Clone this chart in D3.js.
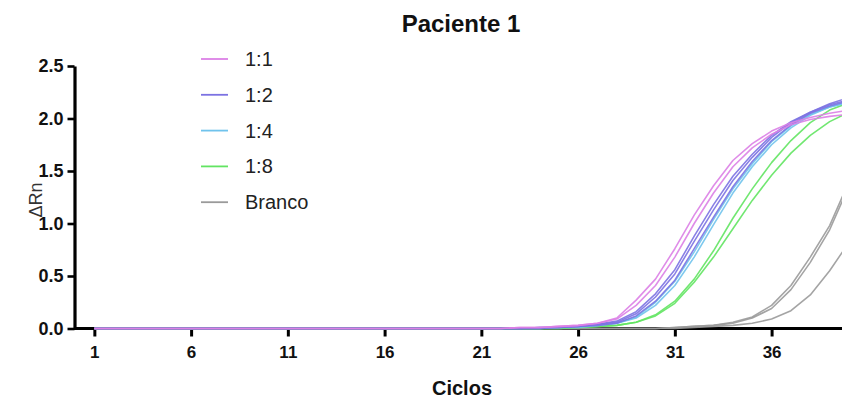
<!DOCTYPE html>
<html>
<head>
<meta charset="utf-8">
<script src="https://cdn.jsdelivr.net/npm/d3@7/dist/d3.min.js"></script>
<style>
  html, body { margin: 0; padding: 0; background: #fff; }
  svg { display: block; font-family: "Liberation Sans", Arial, Helvetica, sans-serif; }
</style>
</head>
<body>
<svg id="chart" width="842" height="398"></svg>
<script>
// qPCR amplification curves (ΔRn per cycle), replicate wells per dilution
const cycles = d3.range(1, 41);
const xTickValues = [1, 6, 11, 16, 21, 26, 31, 36];
const yTickValues = [0, 0.5, 1.0, 1.5, 2.0, 2.5];
const groups = ["1:1", "1:2", "1:4", "1:8", "Branco"];

const dil1a = [0,0,0,0,0,0,0,0,0,0, 0,0,0,0,0,0,0,0,0,0, 0,0,0.01,0.01,0.02, 0.03,0.05,0.10,0.27,0.47, 0.76,1.08,1.36,1.60,1.76, 1.88,1.96,2.01,2.05,2.08];
const dil1b = [0,0,0,0,0,0,0,0,0,0, 0,0,0,0,0,0,0,0,0,0, 0,0,0.01,0.01,0.02, 0.03,0.05,0.09,0.22,0.41, 0.68,1.00,1.29,1.54,1.72, 1.85,1.94,1.99,2.02,2.04];
const dil2a = [0,0,0,0,0,0,0,0,0,0, 0,0,0,0,0,0,0,0,0,0, 0,0,0,0.01,0.01, 0.02,0.04,0.07,0.16,0.33, 0.56,0.88,1.18,1.45,1.66, 1.84,1.97,2.06,2.13,2.18];
const dil2b = [0,0,0,0,0,0,0,0,0,0, 0,0,0,0,0,0,0,0,0,0, 0,0,0,0.01,0.01, 0.02,0.04,0.06,0.14,0.30, 0.52,0.83,1.13,1.41,1.63, 1.82,1.96,2.06,2.14,2.20];
const dil2c = [0,0,0,0,0,0,0,0,0,0, 0,0,0,0,0,0,0,0,0,0, 0,0,0,0,0.01, 0.02,0.03,0.05,0.12,0.26, 0.46,0.76,1.06,1.35,1.59, 1.79,1.94,2.05,2.12,2.17];
const dil4a = [0,0,0,0,0,0,0,0,0,0, 0,0,0,0,0,0,0,0,0,0, 0,0,0,0,0.01, 0.01,0.03,0.05,0.10,0.22, 0.41,0.68,0.99,1.29,1.54, 1.75,1.91,2.03,2.11,2.16];
const dil4b = [0,0,0,0,0,0,0,0,0,0, 0,0,0,0,0,0,0,0,0,0, 0,0,0,0,0.01, 0.02,0.03,0.05,0.11,0.25, 0.45,0.73,1.04,1.33,1.57, 1.78,1.93,2.04,2.11,2.15];
const dil8a = [0,0,0,0,0,0,0,0,0,0, 0,0,0,0,0,0,0,0,0,0, 0,0,0,0,0, 0.01,0.02,0.03,0.06,0.12, 0.24,0.44,0.68,0.95,1.22, 1.46,1.67,1.84,1.97,2.06];
const dil8b = [0,0,0,0,0,0,0,0,0,0, 0,0,0,0,0,0,0,0,0,0, 0,0,0,0,0, 0.01,0.02,0.03,0.06,0.13, 0.26,0.47,0.74,1.05,1.33, 1.58,1.79,1.96,2.08,2.15];
const blankA = [0,0,0,0,0,0,0,0,0,0, 0,0,0,0,0,0,0,0,0,0, 0,0,0,0,0, 0,0,0,0,0, 0.01,0.02,0.03,0.06,0.11, 0.22,0.41,0.68,0.98,1.40];
const blankB = [0,0,0,0,0,0,0,0,0,0, 0,0,0,0,0,0,0,0,0,0, 0,0,0,0,0, 0,0,0,0,0, 0.01,0.02,0.03,0.05,0.10, 0.19,0.37,0.63,0.94,1.36];
const blankC = [0,0,0,0,0,0,0,0,0,0, 0,0,0,0,0,0,0,0,0,0, 0,0,0,0,0, 0,0,0,0,0, 0,0.01,0.02,0.03,0.05, 0.09,0.17,0.32,0.55,0.82];

const wells = [
  { group: "Branco", values: blankC },
  { group: "Branco", values: blankB },
  { group: "Branco", values: blankA },
  { group: "1:8", values: dil8a },
  { group: "1:8", values: dil8b },
  { group: "1:4", values: dil4a },
  { group: "1:4", values: dil4b },
  { group: "1:2", values: dil2c },
  { group: "1:2", values: dil2b },
  { group: "1:2", values: dil2a },
  { group: "1:1", values: dil1b },
  { group: "1:1", values: dil1a }
];

const color = d3.scaleOrdinal()
  .domain(groups)
  .range(["#dc80e6", "#7c72e2", "#70c3ec", "#62e462", "#9a9a9a"]);

const svg = d3.select("#chart");

const x = d3.scaleLinear().domain([0, 40]).range([75, 849]);
const y = d3.scaleLinear().domain([0, 2.5]).range([328.5, 66]);

// Axes
const xAxis = svg.append("g")
  .attr("transform", `translate(0,${y(0)})`)
  .call(d3.axisBottom(x).tickValues(xTickValues).tickSize(8).tickPadding(9).tickSizeOuter(0));
xAxis.select(".domain").attr("d", `M${74},0H${x(40)}`).attr("stroke", "#000").attr("stroke-width", 3);
xAxis.selectAll(".tick line").attr("stroke", "#000").attr("stroke-width", 3);
xAxis.selectAll(".tick text")
  .attr("fill", "#111").attr("font-size", 17).attr("font-weight", "bold")
  .attr("font-family", "Liberation Sans, Arial, sans-serif");

const yAxis = svg.append("g")
  .attr("transform", `translate(74.5,0)`)
  .call(d3.axisLeft(y).tickValues(yTickValues).tickFormat(d3.format(".1f")).tickSize(7).tickPadding(4).tickSizeOuter(0));
yAxis.select(".domain").attr("stroke", "#000").attr("stroke-width", 3.2);
yAxis.selectAll(".tick line").attr("stroke", "#000").attr("stroke-width", 2.6);
yAxis.selectAll(".tick text")
  .attr("fill", "#111").attr("font-size", 18).attr("font-weight", "bold")
  .attr("font-family", "Liberation Sans, Arial, sans-serif");

// Amplification curves
const line = d3.line()
  .x((d, i) => x(cycles[i]))
  .y(d => y(d));

svg.append("g")
  .selectAll("path")
  .data(wells)
  .join("path")
  .attr("d", d => line(d.values))
  .attr("fill", "none")
  .attr("stroke", d => color(d.group))
  .attr("stroke-width", 1.6)
  .attr("stroke-opacity", 0.9)
  .attr("stroke-linejoin", "round");

// Title and axis titles
svg.append("text")
  .attr("x", 461).attr("y", 32)
  .attr("text-anchor", "middle")
  .attr("font-size", 24).attr("font-weight", "bold").attr("fill", "#111")
  .text("Paciente 1");

svg.append("text")
  .attr("x", 462).attr("y", 395)
  .attr("text-anchor", "middle")
  .attr("font-size", 20).attr("font-weight", "bold").attr("fill", "#111")
  .text("Ciclos");

svg.append("text")
  .attr("transform", "translate(42,200) rotate(-90)")
  .attr("text-anchor", "middle")
  .attr("font-size", 18).attr("fill", "#333")
  .text("ΔRn");

// Legend
const legend = svg.append("g")
  .selectAll("g")
  .data(groups)
  .join("g")
  .attr("transform", (d, i) => `translate(201,${59 + i * 35.8})`);

legend.append("line")
  .attr("x1", 0).attr("x2", 27)
  .attr("stroke", d => color(d))
  .attr("stroke-width", 1.8);

legend.append("text")
  .attr("x", 44).attr("y", 0)
  .attr("dy", "0.35em")
  .attr("font-size", 20).attr("fill", "#222")
  .text(d => d);
</script>
</body>
</html>
